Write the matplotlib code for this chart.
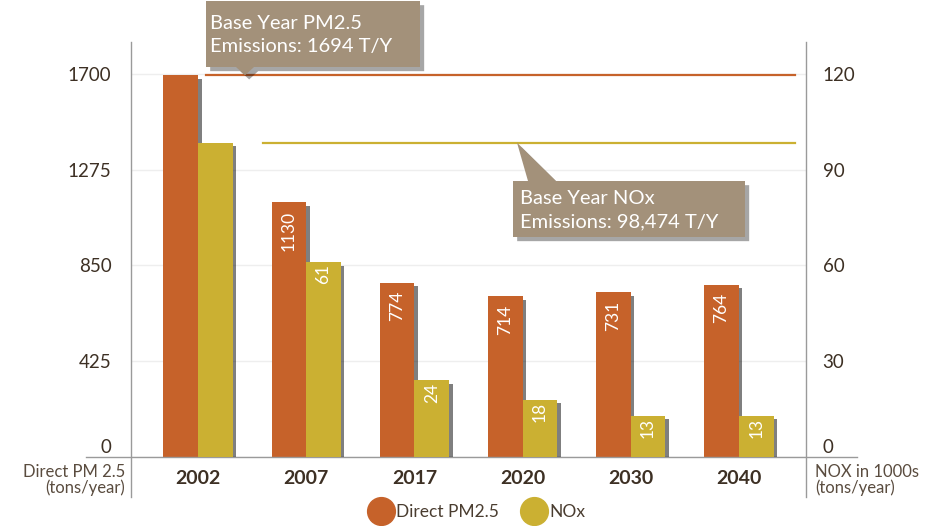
import matplotlib
matplotlib.use('Agg')
import matplotlib.pyplot as plt
from matplotlib.patches import Polygon
from matplotlib.lines import Line2D
from matplotlib.transforms import IdentityTransform, ScaledTranslation
import matplotlib.patheffects as pe
import numpy as np

plt.rcParams['font.family'] = ['Lato', 'DejaVu Sans']

years = ['2002', '2007', '2017', '2020', '2030', '2040']
pm25 = [1694, 1130, 774, 714, 731, 764]
nox = [98.474, 61, 24, 18, 13, 13]
pm_labels = ['', '1130', '774', '714', '731', '764']
nox_labels = ['', '61', '24', '18', '13', '13']
left_ticks = [0, 425, 850, 1275, 1700]
right_ticks = [0, 30, 60, 90, 120]
base_pm = 1694
base_nox = 98.474
pm_callout = 'Base Year PM2.5\nEmissions: 1694 T/Y'
nox_callout = 'Base Year NOx\nEmissions: 98,474 T/Y'

PM = '#C6622A'
NOX = '#CBB032'
BOX = '#A3917A'
TXT = '#3d3024'
GRID = '#eeeeee'
SPINE = '#9a9a9a'

W, H = 929, 526
fig = plt.figure(figsize=(W / 100, H / 100), dpi=100)
ax = fig.add_axes([131 / W, 1 - 457 / H, 675 / W, 415 / H])
ax2 = ax.twinx()

ax.set_ylim(0, 130 * 1700 / 120)
ax2.set_ylim(0, 130)
ax.set_xlim(-0.62, 5.62)

x = np.arange(len(years))
w = 0.32
shadow = [pe.SimplePatchShadow(offset=(2.5, -2.5), shadow_rgbFace='black', alpha=0.5), pe.Normal()]
ax.bar(x - w / 2, pm25, w, color=PM, path_effects=shadow, zorder=3)
ax2.bar(x + w / 2, nox, w, color=NOX, path_effects=shadow, zorder=3)

for i, lab in enumerate(pm_labels):
    if lab:
        ax.annotate(lab, (x[i] - w / 2, pm25[i]), xytext=(0, -6), textcoords='offset points',
                    rotation=90, ha='center', va='top', color='white', fontsize=12.5, zorder=5)
for i, lab in enumerate(nox_labels):
    if lab:
        ax2.annotate(lab, (x[i] + w / 2, nox[i]), xytext=(0, -1.5), textcoords='offset points',
                     rotation=90, ha='center', va='top', color='white', fontsize=12.5, zorder=5)

# base year lines
ax.axhline(base_pm, xmin=0.111, xmax=0.984, color=PM, lw=1.6, zorder=2)
ax2.axhline(base_nox, xmin=0.196, xmax=0.984, color=NOX, lw=1.6, zorder=2)

# grid & ticks
ax.set_yticks(left_ticks)
ax.set_yticklabels([str(t) for t in left_ticks])
ax2.set_yticks(right_ticks)
ax2.set_yticklabels([str(t) for t in right_ticks])
ax.grid(axis='y', color=GRID, lw=1)
ax.set_axisbelow(True)
ax.set_xticks(x)
ax.set_xticklabels(years, fontweight='bold')
ax.tick_params(axis='y', length=0, pad=14, labelsize=13.5, labelcolor=TXT)
ax2.tick_params(axis='y', length=0, pad=12, labelsize=13.5, labelcolor=TXT)
ax.tick_params(axis='x', length=0, pad=9, labelsize=14, labelcolor=TXT)
for a in (ax, ax2):
    for s in a.spines.values():
        s.set_visible(False)

up = ScaledTranslation(0, 8 / 72, fig.dpi_scale_trans)
for a in (ax, ax2):
    t0 = a.yaxis.get_major_ticks()[0]
    t0.label1.set_transform(t0.label1.get_transform() + up)
    t0.label2.set_transform(t0.label2.get_transform() + up)

# axis frame lines
ax.plot([0, 0], [-0.096, 1], transform=ax.transAxes, color=SPINE, lw=1, clip_on=False, zorder=1)
ax.plot([1, 1], [-0.096, 1], transform=ax.transAxes, color=SPINE, lw=1, clip_on=False, zorder=1)
ax.plot([-0.067, 1.076], [0, 0], transform=ax.transAxes, color=SPINE, lw=1, clip_on=False, zorder=4)

# axis titles
fig.text(125 / W, 1 - 480 / H, 'Direct PM 2.5\n(tons/year)', ha='right', va='center',
         multialignment='right', fontsize=12, color='#5a4c3f', linespacing=1.0)
fig.text(815 / W, 1 - 480 / H, 'NOX in 1000s\n(tons/year)', ha='left', va='center',
         fontsize=12, color='#5a4c3f', linespacing=1.0)

# callouts (pixel geometry, tip anchored at data value)
fig.canvas.draw()
def px(xp, yp):
    return (xp, H - yp)

def callout(box, base, tip_x, tip_y_disp, text, text_x):
    x0, y0, x1, y1 = box
    bx0, bx1, by = base
    if by == y1:
        pts = [px(x0, y0), px(x1, y0), px(x1, y1), px(bx1, y1), (tip_x, tip_y_disp), px(bx0, y1), px(x0, y1)]
    else:
        pts = [px(x0, y0), px(bx0, y0), (tip_x, tip_y_disp), px(bx1, y0), px(x1, y0), px(x1, y1), px(x0, y1)]
    poly = Polygon(pts, closed=True, transform=IdentityTransform(), facecolor=BOX, edgecolor='none',
                   path_effects=[pe.SimplePatchShadow(offset=(3, -3), shadow_rgbFace='black', alpha=0.35), pe.Normal()],
                   zorder=10)
    fig.add_artist(poly)
    fig.text(text_x / W, 1 - ((y0 + y1) / 2 + 1) / H, text, ha='left', va='center', color='white',
             fontsize=14.5, linespacing=1.45, zorder=11)

tip_pm = ax.transData.transform((0, base_pm))[1]
callout((206, 1, 420, 67), (236, 254, 67), 245, tip_pm, pm_callout, 210)
tip_nox = ax2.transData.transform((0, base_nox))[1]
callout((513, 181, 745, 237), (528, 556, 181), 517, tip_nox, nox_callout, 520)

# legend
handles = [Line2D([], [], marker='o', ls='', ms=20, color=PM),
           Line2D([], [], marker='o', ls='', ms=20, color=NOX)]
fig.legend(handles, ['Direct PM2.5', 'NOx'], loc='center', bbox_to_anchor=(478 / W, 1 - 512 / H),
           ncol=2, frameon=False, handletextpad=0.3, columnspacing=1.4, fontsize=12.5,
           labelcolor='#4a3d30', handlelength=1.2)

fig.savefig('out.png', dpi=100)
